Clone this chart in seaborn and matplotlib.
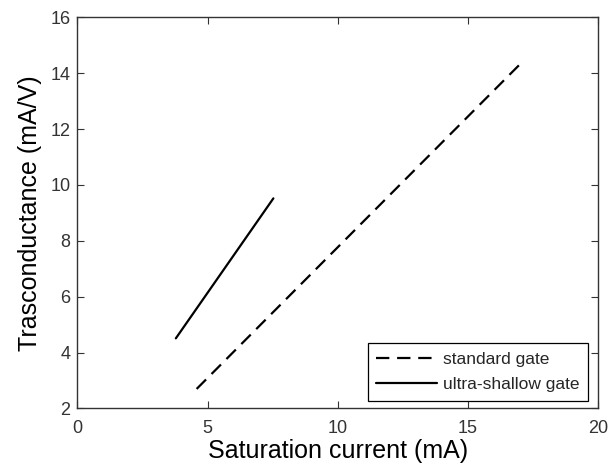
import matplotlib
matplotlib.use("Agg")
import matplotlib.pyplot as plt
import seaborn as sns
import pandas as pd

# Data
std_x = [4.58, 17.02]
std_y = [2.70, 14.33]
us_x = [3.78, 7.53]
us_y = [4.51, 9.52]
series_names = ["standard gate", "ultra-shallow gate"]
x_ticks = [0, 5, 10, 15, 20]
y_ticks = [2, 4, 6, 8, 10, 12, 14, 16]

df = pd.DataFrame({
    "x": std_x + us_x,
    "y": std_y + us_y,
    "series": [series_names[0]] * len(std_x) + [series_names[1]] * len(us_x),
})

sns.set_theme(style="ticks")
plt.rcParams["font.family"] = ["Liberation Sans", "DejaVu Sans"]

fig = plt.figure(figsize=(6.15, 4.71), dpi=100)
ax = fig.add_axes([0.126, 0.1327, 0.846, 0.8306])

sns.lineplot(data=df, x="x", y="y", hue="series", style="series",
             palette={series_names[0]: "black", series_names[1]: "black"},
             dashes={series_names[0]: (6, 3.5), series_names[1]: ""},
             linewidth=1.6, ax=ax, sort=False, estimator=None)

ax.set_xlim(0, 20)
ax.set_ylim(2, 16)
ax.set_xticks(x_ticks)
ax.set_yticks(y_ticks)
ax.tick_params(direction="in", length=5, width=0.8, top=True, right=True,
               labelsize=13, labelcolor="#333333", colors="#333333")
ax.tick_params(axis="x", pad=8)
ax.tick_params(axis="y", pad=5)
for s in ax.spines.values():
    s.set_visible(True)
    s.set_linewidth(1.0)
    s.set_color("#333333")

ax.set_xlabel("Saturation current (mA)", fontsize=18, color="black", labelpad=2)
ax.set_ylabel("Trasconductance (mA/V)", fontsize=18, color="black", labelpad=6)

leg = ax.legend(loc="lower right", fontsize=12.5, handlelength=3.5, frameon=True,
                fancybox=False, edgecolor="black", framealpha=1,
                borderpad=0.5, labelspacing=0.55, handletextpad=0.35,
                borderaxespad=0, bbox_to_anchor=(0.982, 0.02))
leg.get_frame().set_linewidth(0.9)

fig.savefig("out.png", dpi=100)
